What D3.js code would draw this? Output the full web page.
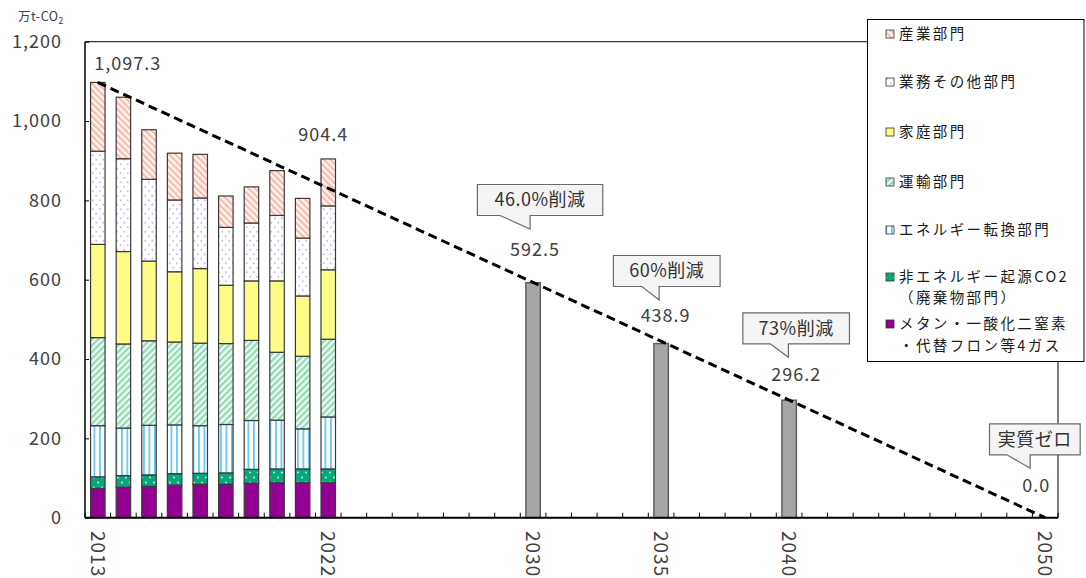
<!DOCTYPE html>
<html>
<head>
<meta charset="utf-8">
<script src="https://cdn.jsdelivr.net/npm/d3@7"></script>
<style>
  html, body { margin: 0; padding: 0; background: #fff; }
  svg { display: block; }
  text { font-family: "Noto Sans CJK JP", "Noto Sans", sans-serif; }
</style>
</head>
<body>
<svg id="chart" width="1086" height="578"></svg>
<script>
// 実績：部門別温室効果ガス排出量（万t-CO2）
const actualYears   = [2013, 2014, 2015, 2016, 2017, 2018, 2019, 2020, 2021, 2022];
const methaneEtc    = [74, 77, 79, 82, 84, 84, 87, 88, 88, 88];
const nonEnergyCO2  = [29, 29, 29, 29, 28, 29, 35, 35, 35, 35];
const energyConv    = [129, 120, 125, 123, 120, 122, 123, 123, 101, 131];
const transport     = [222, 212, 213, 209, 208, 204, 202, 171, 183, 196];
const household     = [235, 233, 201, 177, 188, 147, 150, 180, 152, 175];
const business      = [235, 234, 206, 181, 178, 146, 146, 165, 146, 161];
const industry      = [173.3, 155, 125, 118, 110, 79, 91, 113, 100, 118.4];

// 目標年と目標排出量
const targetYears    = [2030, 2035, 2040, 2050];
const targetValues   = [592.5, 438.9, 296.2, 0.0];
const targetCaptions = ["46.0%削減", "60%削減", "73%削減", "実質ゼロ"];

// 基準年から2050年実質ゼロへの削減経路
const pathwayYears  = [2013, 2050];
const pathwayValues = [1097.3, 0.0];

// 軸
const axisYears  = d3.range(2013, 2051);
const labelYears = [2013, 2022, 2030, 2035, 2040, 2050];
const yTicks     = [0, 200, 400, 600, 800, 1000, 1200];

// 系列（積み上げ順：下から）
const seriesKeys  = ["methane", "nonEnergy", "energy", "transport", "household", "business", "industry"];
const seriesNames = ["メタン・一酸化二窒素\n・代替フロン等4ガス", "非エネルギー起源CO2\n（廃棄物部門）",
                     "エネルギー転換部門", "運輸部門", "家庭部門", "業務その他部門", "産業部門"];
const seriesValues = [methaneEtc, nonEnergyCO2, energyConv, transport, household, business, industry];

// ---- レイアウト ----
const plot = { left: 85, right: 1058, top: 41.7, bottom: 517.7 };

const svg = d3.select("#chart");
const defs = svg.append("defs");

function stripePattern(id, angle, period, stripeW, bg, fg) {
  const p = defs.append("pattern").attr("id", id)
    .attr("patternUnits", "userSpaceOnUse")
    .attr("width", period).attr("height", period)
    .attr("patternTransform", `rotate(${angle})`);
  p.append("rect").attr("width", period).attr("height", period).attr("fill", bg);
  p.append("rect").attr("width", stripeW).attr("height", period).attr("fill", fg);
}
function dotPattern(id, w, h, bg, fg, r) {
  const p = defs.append("pattern").attr("id", id)
    .attr("patternUnits", "userSpaceOnUse")
    .attr("width", w).attr("height", h);
  p.append("rect").attr("width", w).attr("height", h).attr("fill", bg);
  p.append("circle").attr("cx", w / 4).attr("cy", h / 4).attr("r", r).attr("fill", fg);
  p.append("circle").attr("cx", 3 * w / 4).attr("cy", 3 * h / 4).attr("r", r).attr("fill", fg);
}
stripePattern("pat-industry", -45, 4.6, 2.3, "#fff6f3", "#f8bdaf");
stripePattern("pat-transport", 45, 4.6, 2.3, "#effaf4", "#92dbb6");
stripePattern("pat-energy", 0, 5.5, 1.8, "#ffffff", "#66c9f8");
dotPattern("pat-household", 4, 4, "#fffa76", "#ffffc8", 0.8);
dotPattern("pat-business", 7, 9, "#ffffff", "#c9b3ef", 0.9);
dotPattern("pat-nonenergy", 8, 10, "#08a67b", "#d9f5ea", 0.9);

const fills = {
  methane: "#930093",
  nonEnergy: "url(#pat-nonenergy)",
  energy: "url(#pat-energy)",
  transport: "url(#pat-transport)",
  household: "url(#pat-household)",
  business: "url(#pat-business)",
  industry: "url(#pat-industry)"
};

const x = d3.scaleBand().domain(axisYears)
  .range([plot.left, plot.right])
  .paddingInner(0.434).paddingOuter(0.217);
const y = d3.scaleLinear().domain([0, 1200]).range([plot.bottom, plot.top]);
const cx = yr => x(yr) + x.bandwidth() / 2;

// ---- 積み上げ棒（実績） ----
const table = actualYears.map((yr, i) => {
  const row = { year: yr };
  seriesKeys.forEach((k, j) => { row[k] = seriesValues[j][i]; });
  return row;
});
const stacked = d3.stack().keys(seriesKeys)(table);

svg.append("g").selectAll("g")
  .data(stacked).join("g")
  .attr("fill", d => fills[d.key])
  .selectAll("rect")
  .data(d => d).join("rect")
  .attr("x", d => x(d.data.year))
  .attr("width", x.bandwidth())
  .attr("y", d => y(d[1]))
  .attr("height", d => y(d[0]) - y(d[1]))
  .attr("stroke", "#3a3a3a")
  .attr("stroke-width", 1.2);

// ---- 目標年の棒 ----
const targets = targetYears.map((yr, i) => ({ year: yr, value: targetValues[i], caption: targetCaptions[i] }));
svg.append("g").selectAll("rect")
  .data(targets.filter(d => d.value > 0)).join("rect")
  .attr("x", d => x(d.year))
  .attr("width", x.bandwidth())
  .attr("y", d => y(d.value))
  .attr("height", d => y(0) - y(d.value))
  .attr("fill", "#a6a6a6")
  .attr("stroke", "#595959")
  .attr("stroke-width", 1.4);

// ---- 軸 ----
const yAxis = d3.axisLeft(y).tickValues(yTicks).tickSize(-4).tickSizeOuter(0)
  .tickPadding(23).tickFormat(d3.format(","));
const gy = svg.append("g").attr("transform", `translate(${plot.left},0)`).call(yAxis);
gy.select(".domain").remove();
gy.selectAll(".tick line").attr("stroke", "#000").attr("stroke-width", 1);
gy.selectAll(".tick text")
  .attr("fill", "#404040")
  .style("font-size", "18px")
  .style("letter-spacing", "1px");

// x軸の目盛（区間の境界、内向き）
const boundaries = [plot.left].concat(axisYears.map(yr => x(yr) + x.step() - x.step() * x.paddingInner() / 2));
svg.append("g").selectAll("line")
  .data(boundaries).join("line")
  .attr("x1", d => d).attr("x2", d => d)
  .attr("y1", plot.bottom).attr("y2", plot.bottom - 5)
  .attr("stroke", "#000").attr("stroke-width", 1);

svg.append("g").selectAll("text")
  .data(labelYears).join("text")
  .attr("transform", d => `translate(${cx(d)},531) rotate(90)`)
  .attr("dy", "0.36em")
  .attr("fill", "#404040")
  .style("font-size", "19px")
  .style("letter-spacing", "1px")
  .text(d => d);

// 枠線
svg.append("line").attr("x1", plot.left).attr("x2", plot.right).attr("y1", plot.top).attr("y2", plot.top)
  .attr("stroke", "#000").attr("stroke-width", 1);
svg.append("line").attr("x1", plot.right).attr("x2", plot.right).attr("y1", plot.top).attr("y2", plot.bottom)
  .attr("stroke", "#000").attr("stroke-width", 1);
svg.append("line").attr("x1", plot.left).attr("x2", plot.left).attr("y1", plot.top).attr("y2", plot.bottom)
  .attr("stroke", "#000").attr("stroke-width", 1.5);
svg.append("line").attr("x1", plot.left).attr("x2", plot.right).attr("y1", plot.bottom).attr("y2", plot.bottom)
  .attr("stroke", "#000").attr("stroke-width", 2);

// 単位
const unit = svg.append("text").attr("x", 18).attr("y", 21).attr("fill", "#404040")
  .style("font-size", "12.5px").style("letter-spacing", "0.5px");
unit.append("tspan").text("万t-CO");
unit.append("tspan").attr("dy", 2.5).style("font-size", "8.5px").text("2");

// ---- 削減経路（破線） ----
const pathway = pathwayYears.map((yr, i) => ({ year: yr, value: pathwayValues[i] }));
svg.append("path")
  .datum(pathway)
  .attr("d", d3.line().x(d => cx(d.year)).y(d => y(d.value)))
  .attr("fill", "none")
  .attr("stroke", "#000")
  .attr("stroke-width", 3)
  .attr("stroke-dasharray", "9,5");

// ---- 数値ラベル ----
const fmt = d3.format(",.1f");
const totals = table.map(r => ({ year: r.year, value: d3.sum(seriesKeys, k => r[k]) }));
const labelOffset = {
  2013: [30, -19.4], 2022: [-5, -24],
  2030: [2, -32.7], 2035: [4.5, -28], 2040: [7, -26], 2050: [-9, -31.7]
};
const valueLabels = totals.filter(d => labelOffset[d.year]).concat(targets);
svg.append("g").selectAll("text")
  .data(valueLabels).join("text")
  .attr("x", d => cx(d.year) + labelOffset[d.year][0])
  .attr("y", d => y(d.value) + labelOffset[d.year][1])
  .attr("dy", "0.36em")
  .attr("text-anchor", "middle")
  .attr("fill", "#404040")
  .style("font-size", "18px")
  .style("letter-spacing", "1px")
  .text(d => fmt(d.value));

// ---- 吹き出し ----
const calloutShape = {
  2030: { tipDx: -3, tipDy: -53.7, left: -55.7, w: 125.4, tail: -33 },
  2035: { tipDx: -2, tipDy: -43.6, left: -47.7, w: 106.7, tail: -19.3 },
  2040: { tipDx: -0.7, tipDy: -42.9, left: -46.3, w: 106.6, tail: -19 },
  2050: { tipDx: -15, tipDy: -49.4, left: -55.7, w: 90.7, tail: -38.3 }
};
const boxH = 31, tailH = 13.5;
const callouts = svg.append("g").selectAll("g").data(targets).join("g");
callouts.append("path")
  .attr("d", d => {
    const s = calloutShape[d.year], c = cx(d.year);
    const tx = c + s.tipDx, ty = y(d.value) + s.tipDy;
    const bb = ty - tailH, bt = bb - boxH, bl = c + s.left, br = bl + s.w;
    return `M${bl},${bt}H${br}V${bb}H${tx}V${ty}L${c + s.tail},${bb}H${bl}Z`;
  })
  .attr("fill", "#f4f4f4")
  .attr("stroke", "#6a6a6a")
  .attr("stroke-width", 1.2);
callouts.append("text")
  .attr("x", d => cx(d.year) + calloutShape[d.year].left + calloutShape[d.year].w / 2)
  .attr("y", d => y(d.value) + calloutShape[d.year].tipDy - tailH - boxH / 2)
  .attr("dy", "0.36em")
  .attr("text-anchor", "middle")
  .attr("fill", "#333")
  .style("font-size", "18px")
  .style("letter-spacing", "0.5px")
  .text(d => d.caption);

// ---- 凡例 ----
const legend = svg.append("g");
legend.append("rect")
  .attr("x", 867.5).attr("y", 19.5).attr("width", 216.5).attr("height", 342)
  .attr("fill", "#fff").attr("stroke", "#000").attr("stroke-width", 1);
const legendRows = [
  { key: "industry", y: 34, gap: 0 },
  { key: "business", y: 82, gap: 0 },
  { key: "household", y: 132, gap: 0 },
  { key: "transport", y: 182, gap: 0 },
  { key: "energy", y: 230, gap: 0 },
  { key: "nonEnergy", y: 277, gap: 21 },
  { key: "methane", y: 324, gap: 22 }
];
const items = legend.selectAll("g.item").data(legendRows).join("g").attr("class", "item");
items.append("rect")
  .attr("x", 886).attr("y", d => d.y - 4).attr("width", 8).attr("height", 8)
  .attr("fill", d => fills[d.key])
  .attr("stroke", "#333").attr("stroke-width", 0.8);
items.each(function (d) {
  const lines = seriesNames[seriesKeys.indexOf(d.key)].split("\n");
  d3.select(this).selectAll("text").data(lines).join("text")
    .attr("x", 899)
    .attr("y", (t, i) => d.y + i * d.gap)
    .attr("dy", "0.36em")
    .attr("fill", "#1a1a1a")
    .style("font-size", "14.5px")
    .style("letter-spacing", "2.4px")
    .text(t => t);
});
</script>
</body>
</html>
